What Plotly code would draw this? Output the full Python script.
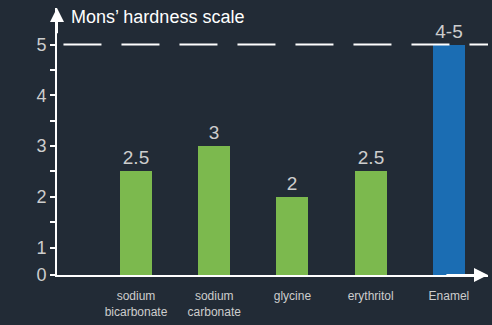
import plotly.graph_objects as go

categories = ["sodium<br>bicarbonate", "sodium<br>carbonate", "glycine", "erythritol", "Enamel"]
hardness = [2.5, 3, 2, 2.5, 5]
value_labels = ["2.5", "3", "2", "2.5", "4-5"]
bar_colors = ["#7cb94e", "#7cb94e", "#7cb94e", "#7cb94e", "#1b6db3"]

# the scale is compressed below 1: the axis origin ("0") sits at 0.46
y_origin = 0.46
y_tickvals = [y_origin, 1, 2, 3, 4, 5]
y_ticktext = ["0", "1", "2", "3", "4", "5"]
y_minor = [1.5, 2.5, 3.5, 4.5]

bg = "#222b36"
fg = "#cdcdcd"

fig = go.Figure()
fig.add_trace(go.Bar(
    x=categories,
    y=hardness,
    text=value_labels,
    textposition="outside",
    textfont=dict(size=19, color=fg),
    marker=dict(color=bar_colors, line=dict(width=0)),
    width=0.41,
    cliponaxis=True,
))

# dashed reference line at the top of the scale
fig.add_shape(type="line", xref="paper", yref="y", x0=0.015, x1=1.0, y0=5, y1=5,
              line=dict(color="white", width=2, dash="38px,20px"), layer="above")

# axis arrows
fig.add_annotation(xref="x domain", yref="y domain", x=0, y=1.0, ax=0, ay=0.9,
                   axref="x domain", ayref="y domain", showarrow=True, arrowhead=2,
                   arrowsize=1.4, arrowwidth=2, arrowcolor="white", text="")
fig.add_annotation(xref="x domain", yref="y domain", x=1.0, y=0, ax=0.9, ay=0,
                   axref="x domain", ayref="y domain", showarrow=True, arrowhead=2,
                   arrowsize=1.4, arrowwidth=2, arrowcolor="white", text="")

fig.add_annotation(xref="paper", yref="paper", x=0.028, y=0.965, xanchor="left",
                   yanchor="middle", showarrow=False, text="Mons’ hardness scale",
                   font=dict(size=18, color="white"))

fig.update_layout(
    width=492, height=325,
    paper_bgcolor=bg, plot_bgcolor=bg,
    margin=dict(l=57, r=4, t=8, b=50),
    font=dict(family="Liberation Sans, Arial, sans-serif", color=fg),
    showlegend=False,
    bargap=0,
    xaxis=dict(
        range=[-1.01, 4.5], showgrid=False, zeroline=False,
        showline=True, linecolor="white", linewidth=2,
        ticks="", ticklabelstandoff=9, tickfont=dict(size=12, color=fg),
    ),
    yaxis=dict(
        range=[y_origin, 5.72], showgrid=False, zeroline=False,
        showline=True, linecolor="white", linewidth=2,
        tickvals=y_tickvals, ticktext=y_ticktext, ticks="outside", ticklen=5,
        tickcolor="white", tickwidth=1.5,
        tickfont=dict(size=18, color=fg),
        minor=dict(tickvals=y_minor, ticks="outside", ticklen=5, tickcolor="white", tickwidth=1.5),
    ),
)

fig.write_html("out.html", config={"displayModeBar": False},
               post_script="document.body.style.margin='0px';")
